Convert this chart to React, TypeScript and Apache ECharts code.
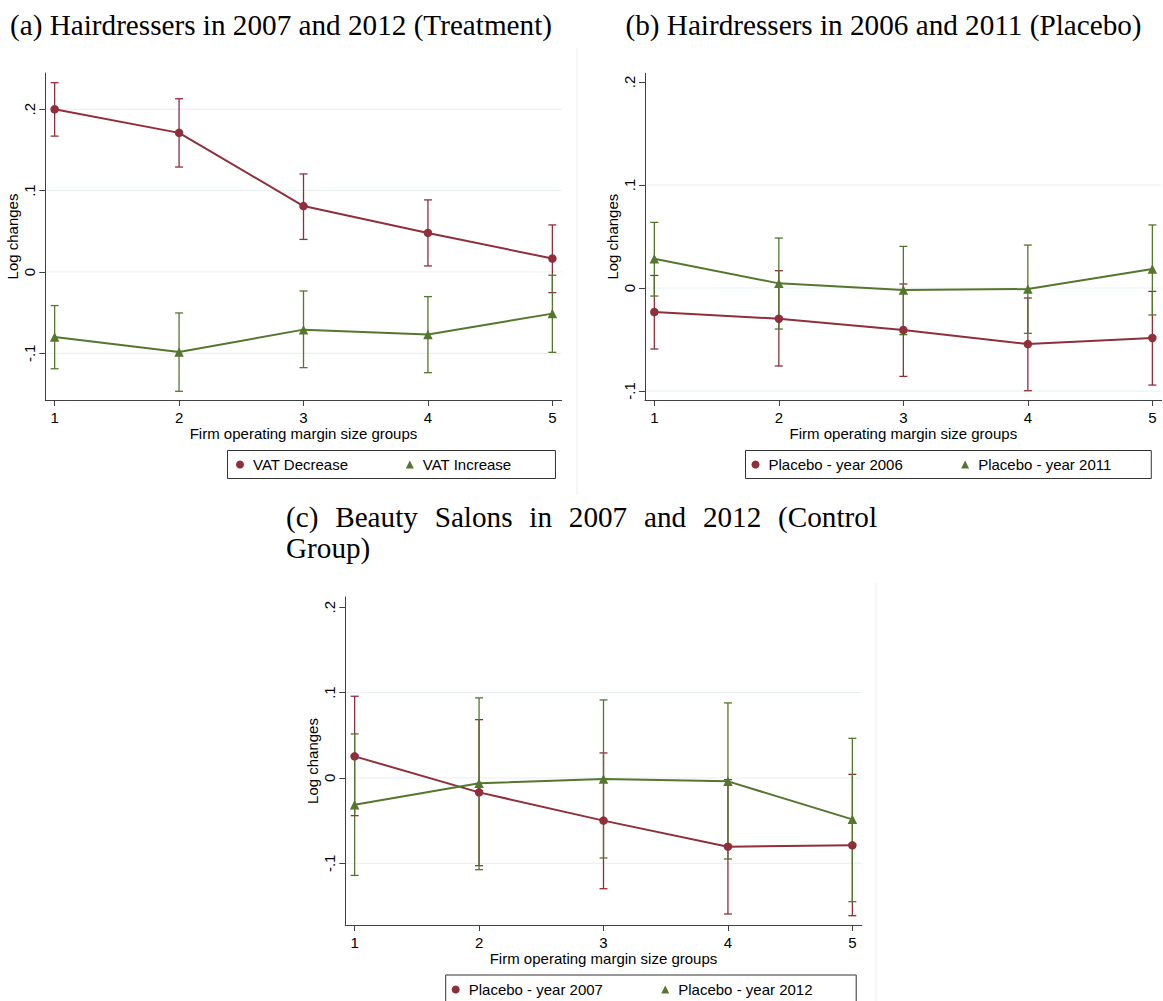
import React, { useEffect, useRef } from "react";
import * as echarts from "echarts";

// ---------- data ----------
const groups = [1, 2, 3, 4, 5];
const yTickValues = [-0.1, 0, 0.1, 0.2];
const yTickLabels = ["-.1", "0", ".1", ".2"];

// (a) Hairdressers 2007 / 2012 (Treatment)
const aDecrease = [0.2, 0.171, 0.081, 0.048, 0.0165];
const aDecreaseLow = [0.167, 0.129, 0.04, 0.0074, -0.0254];
const aDecreaseHigh = [0.2327, 0.213, 0.1205, 0.0886, 0.0578];
const aIncrease = [-0.08, -0.0984, -0.0709, -0.077, -0.0512];
const aIncreaseLow = [-0.119, -0.1467, -0.1176, -0.1238, -0.0988];
const aIncreaseHigh = [-0.0413, -0.0504, -0.0234, -0.0303, -0.004];

// (b) Hairdressers 2006 / 2011 (Placebo)
const b2006 = [-0.0233, -0.0298, -0.0408, -0.0544, -0.0485];
const b2006Low = [-0.0592, -0.0757, -0.0858, -0.0997, -0.0942];
const b2006High = [0.0122, 0.0168, 0.0039, -0.0097, -0.0033];
const b2011 = [0.0284, 0.0045, -0.002, -0.001, 0.0184];
const b2011Low = [-0.0078, -0.0398, -0.0453, -0.044, -0.0262];
const b2011High = [0.0637, 0.0485, 0.0404, 0.0417, 0.0612];

// (c) Beauty salons 2007 / 2012 (Control)
const c2007 = [0.0253, -0.0169, -0.05, -0.0805, -0.079];
const c2007Low = [-0.0442, -0.1028, -0.1298, -0.1594, -0.1614];
const c2007High = [0.0957, 0.0683, 0.0293, -0.002, 0.0042];
const c2012 = [-0.0313, -0.0063, -0.0012, -0.004, -0.0485];
const c2012Low = [-0.1142, -0.1075, -0.0938, -0.095, -0.145];
const c2012High = [0.0516, 0.0938, 0.0914, 0.0879, 0.0464];

const titleA = "(a) Hairdressers in 2007 and 2012 (Treatment)";
const titleB = "(b) Hairdressers in 2006 and 2011 (Placebo)";
const titleCLine1 = "(c) Beauty Salons in 2007 and 2012 (Control";
const titleCLine2 = "Group)";
const xName = "Firm operating margin size groups";
const yName = "Log changes";

// ---------- styles ----------
const RED = "#8E2F3B";
const GREEN = "#55762D";
const AXIS = "#404040";
const GRIDLINE = "#E6EFF1";
const SANS = "Liberation Sans";
const SERIF = "Liberation Serif";
const TITLE_SIZE = 29.2;

type Panel = {
  grid: { left: number; top: number; width: number; height: number };
  yMin: number;
  yMax: number;
  gridVals: number[];
  names: [string, string];
  vals: [number[], number[]];
  lows: [number[], number[]];
  highs: [number[], number[]];
  legend: { left: number; top: number; itemGap: number; padding: number[] };
};

const panels: Panel[] = [
  {
    grid: { left: 45.3, top: 73, width: 516.4, height: 327 },
    yMin: -0.1574,
    yMax: 0.2446,
    gridVals: [-0.1, 0, 0.1, 0.2],
    names: ["VAT Decrease", "VAT Increase"],
    vals: [aDecrease, aIncrease],
    lows: [aDecreaseLow, aIncreaseLow],
    highs: [aDecreaseHigh, aIncreaseHigh],
    legend: { left: 227.5, top: 450.5, itemGap: 57.5, padding: [6.5, 44, 6.5, 8.5] },
  },
  {
    grid: { left: 645, top: 73.3, width: 516.7, height: 326.7 },
    yMin: -0.1087,
    yMax: 0.2084,
    gridVals: [-0.1, 0, 0.1],
    names: ["Placebo - year 2006", "Placebo - year 2011"],
    vals: [b2006, b2011],
    lows: [b2006Low, b2011Low],
    highs: [b2006High, b2011High],
    legend: { left: 745.5, top: 450.5, itemGap: 58.4, padding: [6.5, 40, 6.5, 6] },
  },
  {
    grid: { left: 345.3, top: 597, width: 516.4, height: 328 },
    yMin: -0.1723,
    yMax: 0.212,
    gridVals: [-0.1, 0, 0.1],
    names: ["Placebo - year 2007", "Placebo - year 2012"],
    vals: [c2007, c2012],
    lows: [c2007Low, c2012Low],
    highs: [c2007High, c2012High],
    legend: { left: 445.7, top: 975, itemGap: 58.3, padding: [7, 43.7, 7, 6] },
  },
];

const fmtY = (v: number) => {
  const i = yTickValues.findIndex((t) => Math.abs(t - v) < 1e-9);
  return i >= 0 ? yTickLabels[i] : "";
};

const errRender = (color: string) => (params: any, api: any) => {
  const x = api.value(0);
  const lo = api.coord([x, api.value(1)]);
  const hi = api.coord([x, api.value(2)]);
  const cap = 4;
  const style = { stroke: color, lineWidth: 1.3 };
  return {
    type: "group",
    children: [
      { type: "line", shape: { x1: lo[0], y1: lo[1], x2: hi[0], y2: hi[1] }, style },
      { type: "line", shape: { x1: lo[0] - cap, y1: lo[1], x2: lo[0] + cap, y2: lo[1] }, style },
      { type: "line", shape: { x1: hi[0] - cap, y1: hi[1], x2: hi[0] + cap, y2: hi[1] }, style },
    ],
  };
};

const gridRender = (params: any, api: any) => {
  const cs = params.coordSys;
  const p = api.coord([api.value(0), api.value(1)]);
  return {
    type: "line",
    shape: { x1: cs.x, y1: p[1], x2: cs.x + cs.width, y2: p[1] },
    style: { stroke: GRIDLINE, lineWidth: 1 },
  };
};

function measure(text: string, font: string): number {
  const c = document.createElement("canvas").getContext("2d");
  if (!c) return text.length * 12;
  c.font = font;
  return c.measureText(text).width;
}

function buildOption() {
  const grids: any[] = [];
  const xAxes: any[] = [];
  const yAxes: any[] = [];
  const series: any[] = [];
  const legends: any[] = [];
  const colors = [RED, GREEN];
  const symbols = ["circle", "triangle"];

  panels.forEach((p, i) => {
    grids.push({ ...p.grid, containLabel: false, outerBoundsMode: "none" });
    xAxes.push({
      type: "value",
      gridIndex: i,
      min: 0.925,
      max: 5.075,
      name: xName,
      nameLocation: "middle",
      nameGap: 24,
      nameTextStyle: { fontFamily: SANS, fontSize: 15, color: "#000" },
      axisLine: { show: true, onZero: false, lineStyle: { color: AXIS, width: 1 } },
      axisTick: { show: true, length: 6, lineStyle: { color: AXIS }, customValues: groups },
      axisLabel: {
        customValues: groups,
        fontFamily: SANS,
        fontSize: 15,
        color: "#000",
        margin: 10,
        formatter: (v: number) => String(v),
      },
      splitLine: { show: false },
    });
    yAxes.push({
      type: "value",
      gridIndex: i,
      min: p.yMin,
      max: p.yMax,
      name: yName,
      nameLocation: "middle",
      nameGap: 25,
      nameTextStyle: { fontFamily: SANS, fontSize: 15, color: "#000" },
      axisLine: { show: true, onZero: false, lineStyle: { color: AXIS, width: 1 } },
      axisTick: { show: true, length: 6, lineStyle: { color: AXIS }, customValues: yTickValues },
      axisLabel: {
        customValues: yTickValues,
        rotate: 90,
        fontFamily: SANS,
        fontSize: 15,
        color: "#000",
        margin: 8,
        formatter: fmtY,
      },
      splitLine: { show: false },
    });

    series.push({
      type: "custom",
      name: `grid-${i}`,
      xAxisIndex: i,
      yAxisIndex: i,
      silent: true,
      z: 0,
      renderItem: gridRender,
      encode: { x: 0, y: 1 },
      data: p.gridVals.map((v) => [groups[0], v]),
    });

    [0, 1].forEach((k) => {
      series.push({
        type: "custom",
        name: `${p.names[k]} CI`,
        xAxisIndex: i,
        yAxisIndex: i,
        z: 1,
        renderItem: errRender(colors[k]),
        encode: { x: 0, y: [1, 2] },
        data: groups.map((g, j) => [g, p.lows[k][j], p.highs[k][j]]),
      });
    });
    [0, 1].forEach((k) => {
      series.push({
        type: "line",
        name: p.names[k],
        xAxisIndex: i,
        yAxisIndex: i,
        z: 2,
        symbol: symbols[k],
        symbolSize: k === 0 ? 8.5 : 9.5,
        showSymbol: true,
        lineStyle: { color: colors[k], width: 2 },
        itemStyle: { color: colors[k] },
        data: groups.map((g, j) => [g, p.vals[k][j]]),
      });
    });

    legends.push({
      show: true,
      orient: "horizontal",
      left: p.legend.left,
      top: p.legend.top,
      itemGap: p.legend.itemGap,
      padding: p.legend.padding,
      itemWidth: 8,
      itemHeight: 8,
      borderColor: "#333",
      borderWidth: 1,
      selectedMode: false,
      textStyle: { fontFamily: SANS, fontSize: 15, color: "#000", padding: [0, 0, 0, 4] },
      data: [
        { name: p.names[0], icon: "circle", itemStyle: { color: RED } },
        { name: p.names[1], icon: "triangle", itemStyle: { color: GREEN } },
      ],
    });
  });

  // Titles
  const titleFont = `${TITLE_SIZE}px "${SERIF}"`;
  const graphics: any[] = [
    {
      type: "text",
      x: 10,
      y: 24.5,
      style: { text: titleA, font: titleFont, fill: "#000", align: "left", verticalAlign: "middle" },
    },
    {
      type: "text",
      x: 625.5,
      y: 24.5,
      style: { text: titleB, font: titleFont, fill: "#000", align: "left", verticalAlign: "middle" },
    },
    {
      type: "text",
      x: 286,
      y: 548,
      style: { text: titleCLine2, font: titleFont, fill: "#000", align: "left", verticalAlign: "middle" },
    },
    { type: "line", shape: { x1: 577, y1: 48, x2: 577, y2: 495 }, style: { stroke: "#EEEEEE", lineWidth: 1 } },
    { type: "line", shape: { x1: 876, y1: 583, x2: 876, y2: 1001 }, style: { stroke: "#EEEEEE", lineWidth: 1 } },
  ];
  // justified first line of title (c)
  const words = titleCLine1.split(" ");
  const widths = words.map((w) => measure(w, titleFont));
  const lineLeft = 286;
  const lineRight = 877;
  const gap = (lineRight - lineLeft - widths.reduce((a, b) => a + b, 0)) / (words.length - 1);
  let cx = lineLeft;
  words.forEach((w, k) => {
    graphics.push({
      type: "text",
      x: cx,
      y: 517,
      style: { text: w, font: titleFont, fill: "#000", align: "left", verticalAlign: "middle" },
    });
    cx += widths[k] + gap;
  });

  return {
    animation: false,
    backgroundColor: "#fff",
    grid: grids,
    xAxis: xAxes,
    yAxis: yAxes,
    legend: legends,
    series,
    graphic: graphics,
  };
}

export default function App() {
  const ref = useRef<HTMLDivElement>(null);
  useEffect(() => {
    document.body.style.margin = "0";
    const chart = echarts.init(ref.current!, null, { renderer: "svg" });
    chart.setOption(buildOption());
    return () => chart.dispose();
  }, []);
  return <div ref={ref} style={{ width: 1163, height: 1001 }} />;
}
